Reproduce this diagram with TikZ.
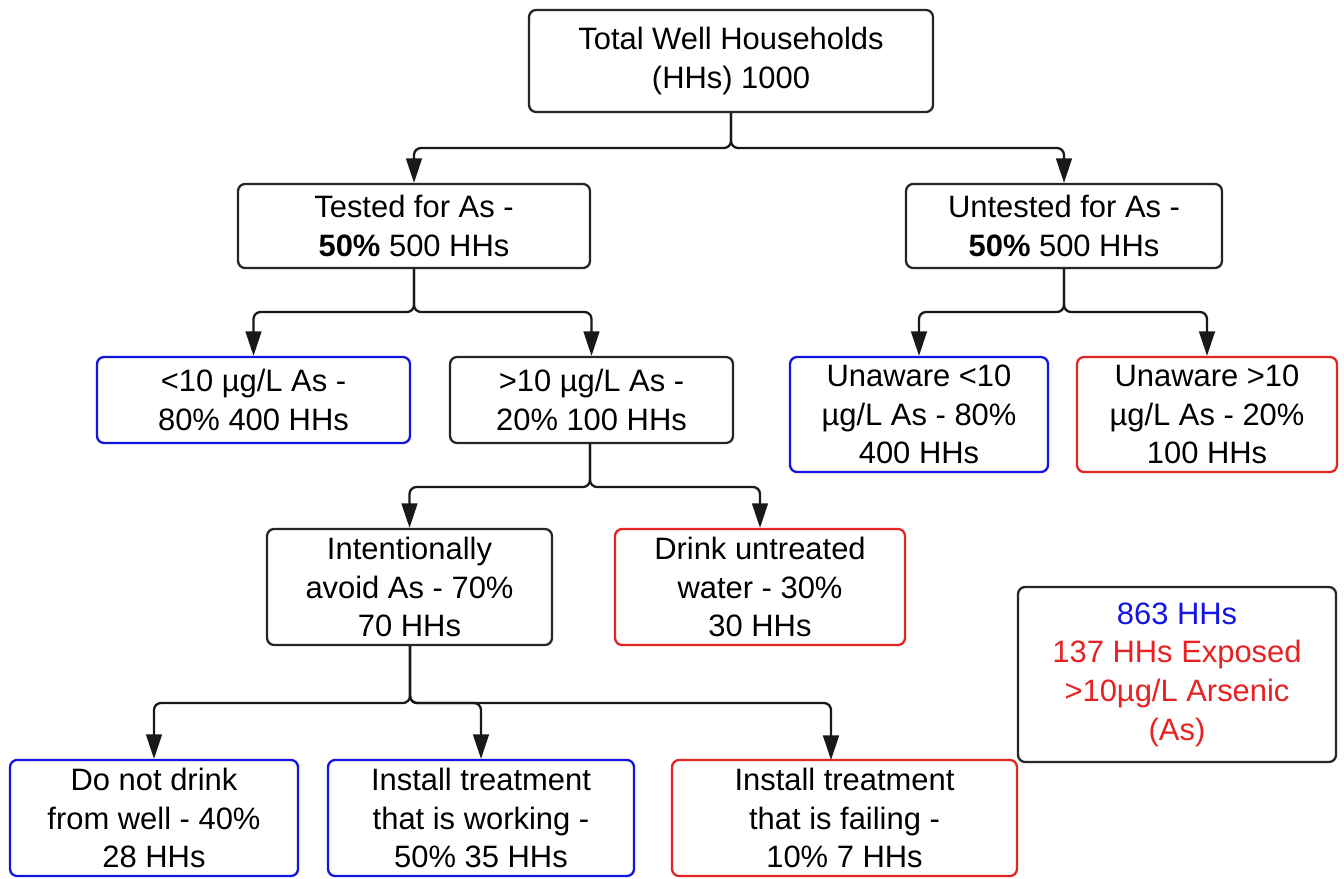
\documentclass[tikz,border=0pt]{standalone}
\usepackage{fontspec}
\setmainfont{Liberation Sans}
\usetikzlibrary{arrows.meta}
\definecolor{bblue}{RGB}{20,20,225}
\definecolor{rred}{RGB}{230,35,35}
\tikzset{
  box/.style={draw=black!85, line width=1.3pt, rounded corners=4pt, align=center,
    inner sep=0pt, font=\fontsize{17.6}{22}\selectfont},
  bluebox/.style={box, draw=bblue},
  redbox/.style={box, draw=rred},
  conn/.style={line width=1.3pt, draw=black!90, rounded corners=4pt,
    -{Triangle[length=14pt,width=9pt]}},
}
\begin{document}
\begin{tikzpicture}[x=0.02cm, y=-0.02cm]
\useasboundingbox[fill=white] (0,0) rectangle (1344,878);
% nodes
\node[box, minimum width=8.08cm, minimum height=2.04cm] (top) at (731,61) {Total Well Households\\(HHs) 1000};
\node[box, minimum width=7.04cm, minimum height=1.68cm] (tested) at (414,226) {Tested for As -\\\textbf{50\%} 500 HHs};
\node[box, minimum width=6.32cm, minimum height=1.68cm] (untested) at (1064,226) {Untested for As -\\\textbf{50\%} 500 HHs};
\node[bluebox, minimum width=6.26cm, minimum height=1.72cm] (lt) at (253.5,400) {<10 µg/L As -\\80\% 400 HHs};
\node[box, minimum width=5.66cm, minimum height=1.72cm] (gt) at (591.5,400) {>10 µg/L As -\\20\% 100 HHs};
\node[bluebox, minimum width=5.16cm, minimum height=2.30cm] (ul) at (919,414.5) {Unaware <10\\µg/L As - 80\%\\400 HHs};
\node[redbox, minimum width=5.20cm, minimum height=2.30cm] (ug) at (1207,414.5) {Unaware >10\\µg/L As - 20\%\\100 HHs};
\node[box, minimum width=5.70cm, minimum height=2.32cm] (intent) at (409.5,587) {Intentionally\\avoid As - 70\%\\70 HHs};
\node[redbox, minimum width=5.80cm, minimum height=2.32cm] (drink) at (760,587) {Drink untreated\\water - 30\%\\30 HHs};
\node[box, minimum width=6.36cm, minimum height=3.50cm] (legend) at (1177,674.5) {\textcolor{bblue}{863 HHs}\\\textcolor{rred}{137 HHs Exposed}\\\textcolor{rred}{>10µg/L Arsenic}\\\textcolor{rred}{(As)}};
\node[bluebox, minimum width=5.76cm, minimum height=2.32cm] (nd) at (154,818) {Do not drink\\from well - 40\%\\28 HHs};
\node[bluebox, minimum width=6.12cm, minimum height=2.32cm] (work) at (481,818) {Install treatment\\that is working -\\50\% 35 HHs};
\node[redbox, minimum width=6.90cm, minimum height=2.32cm] (fail) at (844.5,818) {Install treatment\\that is failing -\\10\% 7 HHs};
% junctions
\coordinate (j1) at (731,148);
\coordinate (j2) at (414,312);
\coordinate (j3) at (1064,312);
\coordinate (j4) at (590,487);
\coordinate (j5) at (410,703);
\coordinate (failin) at (831,760);
% connectors
\draw[conn] (top.south) -- (j1) -| (tested.north);
\draw[conn] (top.south) -- (j1) -| (untested.north);
\draw[conn] (tested.south) -- (j2) -| (lt.north);
\draw[conn] (tested.south) -- (j2) -| (gt.north);
\draw[conn] (untested.south) -- (j3) -| (ul.north);
\draw[conn] (untested.south) -- (j3) -| (ug.north);
\draw[conn] (gt.south -| j4) -- (j4) -| (intent.north);
\draw[conn] (gt.south -| j4) -- (j4) -| (drink.north);
\draw[conn] (intent.south -| j5) -- (j5) -| (nd.north);
\draw[conn] (intent.south -| j5) -- (j5) -| (work.north);
\draw[conn] (intent.south -| j5) -- (j5) -| (failin);
\end{tikzpicture}
\end{document}
